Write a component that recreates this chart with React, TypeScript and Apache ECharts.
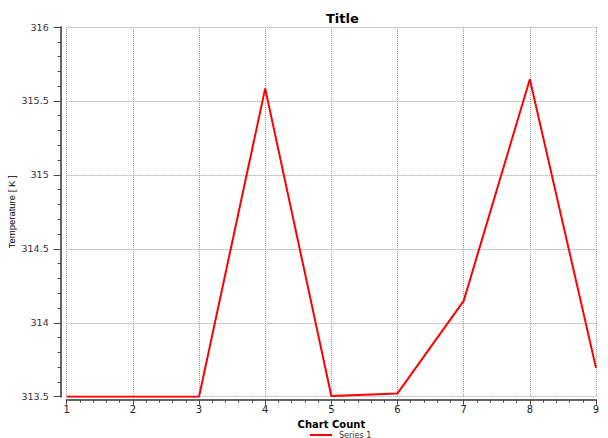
import React, { useEffect, useRef } from "react";
import * as echarts from "echarts";

const xValues = [1, 2, 3, 4, 5, 6, 7, 8, 9];
const temperature = [313.5, 313.5, 313.5, 315.585, 313.505, 313.522, 314.148, 315.647, 313.695];
const seriesName = "Series 1";

export default function App() {
  const ref = useRef<HTMLDivElement>(null);
  useEffect(() => {
    const chart = echarts.init(ref.current!, null, { renderer: "svg" });
    const font = "DejaVu Sans, Verdana, sans-serif";
    chart.setOption({
      animation: false,
      backgroundColor: "#ffffff",
      title: {
        text: "Title",
        left: 321,
        top: 7,
        textStyle: { fontFamily: font, fontSize: 13, fontWeight: "bold", color: "#000" },
      },
      legend: {
        left: 305,
        top: 426,
        itemWidth: 22,
        itemHeight: 2,
        icon: "rect",
        itemGap: 6,
        data: [seriesName],
        textStyle: { fontFamily: font, fontSize: 8, color: "#333", padding: [0, 0, 0, 2] },
      },
      grid: { left: 66.7, right: 12, top: 27, bottom: 41.3, outerBoundsMode: "none", containLabel: false },
      xAxis: {
        type: "value",
        min: 1,
        max: 9,
        interval: 1,
        offset: 3,
        name: "Chart Count",
        nameLocation: "middle",
        nameGap: 13,
        nameTextStyle: { fontFamily: font, fontSize: 10, fontWeight: "bold", color: "#000" },
        axisLine: { show: true, lineStyle: { color: "#666", width: 2 } },
        axisTick: { show: true, length: 5, lineStyle: { color: "#444", width: 1 } },
        minorTick: { show: true, splitNumber: 5, length: 3, lineStyle: { color: "#444" } },
        axisLabel: { margin: 5, fontFamily: font, fontSize: 10, color: "#222" },
        splitLine: { show: true, lineStyle: { type: "dotted", color: "#999", width: 1 } },
      },
      yAxis: {
        type: "value",
        min: 313.5,
        max: 316,
        interval: 0.5,
        offset: 6,
        name: "Temperature [ K ]",
        nameLocation: "middle",
        nameRotate: 90,
        nameGap: 44,
        nameMoveOverlap: false,
        nameTextStyle: { fontFamily: "Liberation Sans, Arial, sans-serif", fontSize: 9.5, color: "#000" },
        axisLine: { show: true, lineStyle: { color: "#666", width: 2 } },
        axisTick: { show: true, length: 7, lineStyle: { color: "#444", width: 1 } },
        minorTick: { show: true, splitNumber: 5, length: 3, lineStyle: { color: "#444" } },
        axisLabel: { margin: 12, fontFamily: font, fontSize: 9.5, color: "#333" },
        splitLine: { show: true, lineStyle: { type: "dotted", color: "#999", width: 1 } },
      },
      series: [
        {
          name: seriesName,
          type: "line",
          symbol: "none",
          data: xValues.map((x, i) => [x, temperature[i]]),
          lineStyle: { color: "#ff0000", width: 2 },
          itemStyle: { color: "#ff0000" },
        },
      ],
    });
    return () => chart.dispose();
  }, []);
  return (
    <div
      ref={ref}
      style={{ position: "fixed", left: 0, top: 0, width: 608, height: 438 }}
    />
  );
}
